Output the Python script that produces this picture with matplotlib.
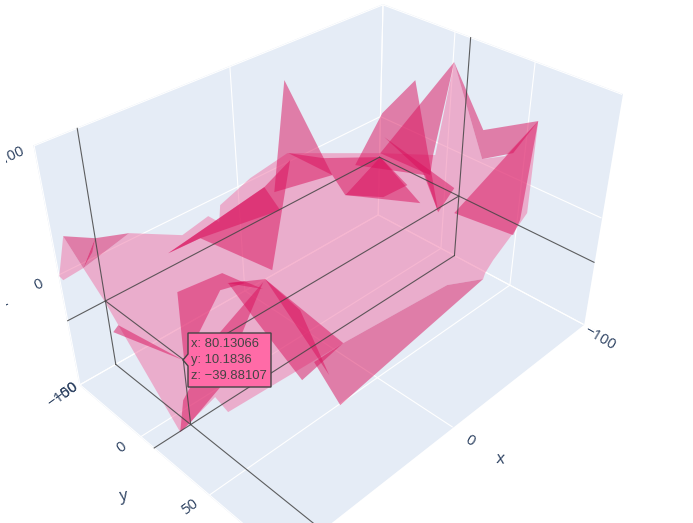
import matplotlib
matplotlib.use('Agg')
import matplotlib.pyplot as plt
from matplotlib.patches import Polygon
from matplotlib.transforms import Bbox
from mpl_toolkits.mplot3d.art3d import Poly3DCollection

# mesh corners
x = [95.8, 100.4, 98.8, 89.9, 82.6, 65.2, 84.9, 36.4, 20.6, 14.5,
     13.5, -6.1, -31.2, -99.6, -98.1, -95.2, -98.8, -95.7, -95.5, -95.7,
     -85.0, -75.1, -71.1, -66.6, -57.3, 14.7, 67.4, 69.3, 88.0, 80.7,
     47.4, -8.7, -31.2, 0.3, 29.4, -19.5, -16.6, -15.6, -39.5, -31.6,
     -55.3, -96.5, -59.3, -88.5, -89.3, -79.1, -61.8, -94.8, -97.0, -88.6,
     -87.5, -89.3, -97.3, -93.4, -96.4, -88.3, -99.1, -96.1, -86.1, -91.3,
     -96.4, 25.0, 22.9, 32.5, 18.4, 30.4, 29.9, 21.8, 12.1, 53.2,
     34.6, 26.9, 38.5, 68.6, 20.6, 61.6, 81.6, 78.5, 44.0, 32.8,
     24.1, 26.3, 82.1, 86.5, 80.4]
y = [-47.9, -49.0, -49.3, -46.5, -45.3, -46.3, -45.6, -47.7, -47.8, -47.7,
     -47.2, -47.6, -48.5, -49.1, -6.6, 4.8, 24.7, 41.4, 58.8, 58.6,
     59.1, 55.8, 54.6, 57.1, 41.8, 41.8, 21.9, 15.6, 13.5, -49.4,
     -44.3, -40.1, -46.4, -25.7, -43.3, -41.7, -31.3, -41.0, -23.8, -48.2,
     -47.9, -46.0, -35.2, -7.0, -17.8, -25.9, -30.3, -43.5, -22.3, 6.1,
     -3.6, -1.7, -7.4, -40.2, 9.6, -5.8, 23.6, 45.8, 19.3, 54.7,
     54.3, 50.7, 30.6, -19.1, -8.7, 30.4, -6.8, 39.8, 8.9, -31.1,
     -20.3, -13.2, -17.5, -7.5, -7.5, 9.1, 12.1, 3.7, -12.6, -19.5,
     -3.3, -14.8, -37.9, -35.3, 10.4]
z = [30, 0, -5, 0, 20, 10, 10, -15, -10, -20,
     -5, 5, 10, -35, -10, 80, 5, 20, 60, -20,
     -30, -50, -60, -60, -70, -60, -90, -80, -95, -40,
     -20, 0, 5, -60, -20, -30, 90, -10, 0, 10,
     -10, -35, -40, -50, -40, -50, -10, 10, 50, -50,
     -20, -20, -10, -10, -30, -20, 30, 25, -40, -40,
     -30, -100, -80, -40, -40, -90, -60, -85, -60, -40,
     -30, -40, -40, -70, -40, -85, -95, -85, -70, -40,
     -40, -40, -50, -50, -40]

# which corners make up each facet
pale_faces = [[0, 1, 2, 3],
              [3, 5, 7, 8, 9, 10, 11, 12, 13, 14, 15, 16, 17, 18, 19, 20, 21, 22, 23, 24, 25, 26, 27, 28, 29]]
dark_faces = [[0, 4, 3], [5, 4, 3], [4, 3, 6], [30, 31, 32, 33, 34], [30, 31, 35, 34],
              [36, 37, 38], [39, 40, 41, 42, 38], [42, 41, 43], [42, 41, 44, 45],
              [46, 47, 48, 49, 50], [15, 13, 51, 52], [53, 54, 49, 55], [15, 56, 18, 57, 16],
              [18, 58, 59, 60], [25, 24, 23, 61, 62], [63, 64, 25, 65, 66], [64, 67, 68],
              [69, 70, 71, 72, 73], [74, 66, 75, 76, 28, 77, 78], [79, 80, 81], [82, 83, 84]]

x_ticks = [-100, 0, 100]
y_ticks = [-50, 0, 50]
z_ticks = [-100, 0, 100]

# hovered point
hover_x = 80.13066
hover_y = 10.1836
hover_z = -39.88107

plt.rcParams['grid.color'] = 'white'
plt.rcParams['grid.linewidth'] = 0.8

W, H = 693, 523
fig = plt.figure(figsize=(W / 100, H / 100), dpi=100)
# camera fitted to the corners of the box
ax = fig.add_axes([31.34 / W, 1 - 554.35 / H, 601.72 / W, 601.72 / H], projection='3d')
ax.computed_zorder = False
ax.set_xlim(-100, 100)
ax.set_ylim(-50, 98.5)
ax.set_zlim(-100, 100)
ax.set_box_aspect((1.438, 1, 0.906))
ax.view_init(elev=35.07, azim=45.02, roll=0.1)
ax.set_proj_type('persp', focal_length=0.326)

ax.set_xticks(x_ticks)
ax.set_yticks(y_ticks)
ax.set_zticks(z_ticks)
ax.set_xticklabels([])
ax.set_yticklabels([])
ax.set_zticklabels([])
for axis in (ax.xaxis, ax.yaxis, ax.zaxis):
    axis.set_pane_color('#E5ECF6')
    axis.pane.set_edgecolor('#E5ECF6')
    axis.line.set_color((0, 0, 0, 0))
    axis.set_tick_params(color=(0, 0, 0, 0))


def corners(faces):
    return [[(x[i], y[i], z[i]) for i in face] for face in faces]


pale = Poly3DCollection(corners(pale_faces), facecolors=(239 / 255, 112 / 255, 164 / 255, 0.5),
                        edgecolors='none', linewidths=0, zorder=3)
dark = Poly3DCollection(corners(dark_faces), facecolors=(218 / 255, 16 / 255, 92 / 255, 0.5),
                        edgecolors='none', linewidths=0, zorder=4)
ax.add_collection3d(pale)
ax.add_collection3d(dark)

# spike lines from the hovered point to the walls
x0, x1 = ax.get_xlim()
y0, y1 = ax.get_ylim()
z0, z1 = ax.get_zlim()
spikes = [([hover_x, hover_x], [y0, y0], [z0, z1]),
          ([x0, x1], [y0, y0], [hover_z, hover_z]),
          ([x0, x0], [hover_y, hover_y], [z0, z1]),
          ([x0, x0], [y0, y1], [hover_z, hover_z]),
          ([hover_x, hover_x], [y0, y1], [z0, z0]),
          ([x0, x1], [hover_y, hover_y], [z0, z0]),
          ([hover_x, hover_x], [y0, hover_y], [hover_z, hover_z]),
          ([x0, hover_x], [hover_y, hover_y], [hover_z, hover_z]),
          ([hover_x, hover_x], [hover_y, hover_y], [z0, hover_z])]
for sx, sy, sz in spikes:
    ax.plot(sx, sy, sz, color='#444444', lw=0.8, alpha=0.85, zorder=5)


def label(px, py, s, rot, size=10.7):
    t = fig.text(px / W, 1 - py / H, s, rotation=rot, color='#2a3f5f', fontsize=size,
                 family='Open Sans', ha='center', va='center')
    # the reference cuts its text a few pixels before the left edge
    t.set_clip_box(Bbox([[6, 0], [W, H]]))
    t.set_clip_on(True)


label(600, 338, '\u2212100', -30)
label(470, 441, '0', -30)
label(500, 459, 'x', -5, 11.5)
label(63, 395, '\u2212100', 36)
label(67, 393, '\u221250', 36)
label(122, 448, '0', 36)
label(190, 507, '50', 36)
label(123, 497, 'y', 8, 11.5)
label(13, 155, '100', 25)
label(39, 285, '0', 25)
label(4, 302, 'z', 20, 11.5)

# hover box
box = [(188, 333), (271, 333), (271, 387), (188, 387), (188, 366), (183, 360), (188, 354)]
fig.add_artist(Polygon([(u / W, 1 - v / H) for u, v in box], closed=True, transform=fig.transFigure,
                       facecolor='#FF6BA7', edgecolor='#444444', lw=1, zorder=6))
for yy, s in zip((344, 360, 376), ('x: 80.13066', 'y: 10.1836', 'z: \u221239.88107')):
    fig.text(191 / W, 1 - yy / H, s, color='#444444', fontsize=9.4, family='Liberation Sans',
             ha='left', va='center', zorder=7)

fig.savefig('out.png', dpi=100)
